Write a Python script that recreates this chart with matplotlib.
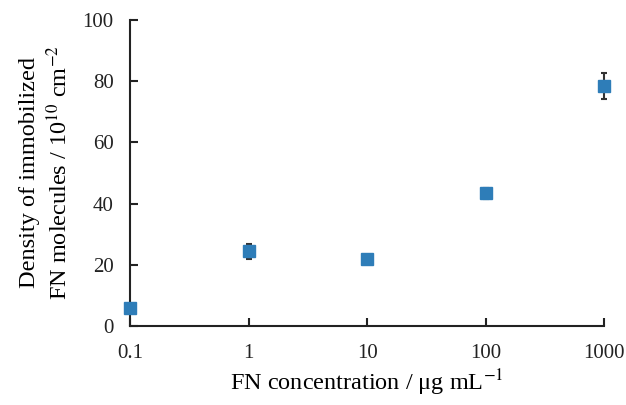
import matplotlib
matplotlib.use('Agg')
import matplotlib.pyplot as plt

plt.rcParams['font.family'] = 'Liberation Serif'
plt.rcParams['mathtext.fontset'] = 'stix'

conc = [0.1, 1, 10, 100, 1000]
density = [6.0, 24.4, 21.8, 43.3, 78.5]
errors = [0.5, 2.5, 0.6, 1.8, 4.3]

fig = plt.figure(figsize=(6.26, 4.05), dpi=100)
ax = fig.add_axes([0.208, 0.195, 0.757, 0.756])

ax.errorbar(conc, density, yerr=errors, fmt='s', color='#2E7DB8', ecolor='#333333',
            markersize=9, elinewidth=1.5, capsize=2.5, capthick=1.5, clip_on=False, zorder=3)

ax.set_xscale('log')
ax.set_xlim(0.1, 1000)
ax.set_ylim(0, 100)
ax.set_xticks(conc)
ax.set_xticklabels(['0.1', '1', '10', '100', '1000'])
ax.minorticks_off()
ax.set_yticks([0, 20, 40, 60, 80, 100])

for s in ['top', 'right']:
    ax.spines[s].set_visible(False)
for s in ['left', 'bottom']:
    ax.spines[s].set_linewidth(1.5)
    ax.spines[s].set_color('#222222')
ax.tick_params(direction='in', length=6, width=1.5, labelsize=15, pad=13, colors='#222222')
ax.tick_params(axis='y', pad=12)

ax.set_xlabel('FN concentration / μg mL$^{-1}$', fontsize=17.5, labelpad=3)
ax.set_ylabel('Density of immobilized\nFN molecules / 10$^{10}$ cm$^{-2}$', fontsize=17.5,
              labelpad=7, linespacing=1.35)

fig.savefig('out.png', dpi=100)
